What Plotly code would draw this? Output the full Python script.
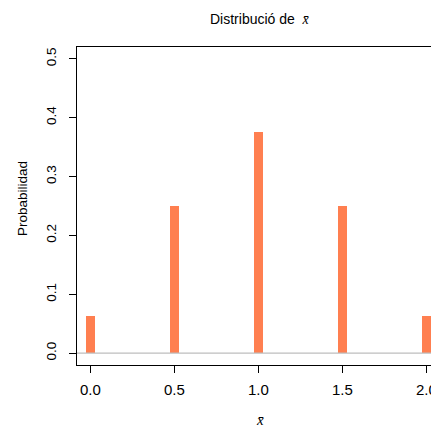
import plotly.graph_objects as go

x_vals = [0.0, 0.5, 1.0, 1.5, 2.0]
probs = [0.0625, 0.25, 0.375, 0.25, 0.0625]
x_ticks = [0.0, 0.5, 1.0, 1.5, 2.0]
y_ticks = [0.0, 0.1, 0.2, 0.3, 0.4, 0.5]

FONT = "Liberation Sans, Arial, Helvetica, sans-serif"
SERIF = "Liberation Serif, DejaVu Serif, serif"

# page body has an 8px default margin; figure sized to fill the 439x427 window
OFF = 8
W, H = 439 - OFF, 427 - OFF
PL, PT, PB, PR = 77, 47, 365, 439          # plot area on screen
L, T, B = PL - OFF, PT - OFF, H - (PB - OFF)
PW, PH = PR - PL, PB - PT


def px(sx):
    return (sx - PL) / PW


def py(sy):
    return (PB - sy) / PH


fig = go.Figure()
fig.add_trace(go.Bar(x=x_vals, y=probs, width=0.056,
                     marker=dict(color="#FF7F50", line=dict(width=0)),
                     showlegend=False, hoverinfo="skip"))

fig.add_shape(type="line", xref="paper", yref="y", x0=0, x1=1, y0=0, y1=0,
              line=dict(color="#BEBEBE", width=1.2), layer="above")

fig.add_annotation(text="Distribució de  <i><span style='font-family:" + SERIF + "'>x̄</span></i>",
                   xref="paper", yref="paper", x=px(260), y=py(19),
                   showarrow=False, xanchor="center", yanchor="middle", font=dict(size=14))
fig.add_annotation(text="<i>x̄</i>", xref="paper", yref="paper",
                   x=px(259.5), y=py(420),
                   showarrow=False, xanchor="center", yanchor="middle",
                   font=dict(size=15, family=SERIF))
fig.add_annotation(text="Probabilidad", xref="paper", yref="paper", textangle=-90,
                   x=px(22), y=py(199),
                   showarrow=False, xanchor="center", yanchor="middle", font=dict(size=13.5))

fig.update_layout(
    width=W, height=H,
    margin=dict(l=L, r=0, t=T, b=B, pad=0, autoexpand=False),
    paper_bgcolor="white", plot_bgcolor="white",
    font=dict(family=FONT, size=15, color="black"),
    xaxis=dict(range=[-0.08, -0.08 + PW / 168.0], tickvals=x_ticks,
               ticktext=[f"{v:.1f}" for v in x_ticks], tickfont=dict(size=15),
               ticks="outside", ticklen=7, tickcolor="black", tickwidth=1,
               showline=True, linecolor="black", linewidth=1, mirror=True,
               showgrid=False, zeroline=False, automargin=False, ticklabelstandoff=4),
    yaxis=dict(range=[-0.02, 0.52], tickvals=y_ticks, ticktext=[f"{v:.1f}" for v in y_ticks],
               tickangle=-90, tickfont=dict(size=13.5),
               ticks="outside", ticklen=7, tickcolor="black", tickwidth=1,
               showline=True, linecolor="black", linewidth=1, mirror=True,
               showgrid=False, zeroline=False, automargin=False, ticklabelstandoff=8),
    bargap=0,
)

fig.write_html("out.html")
